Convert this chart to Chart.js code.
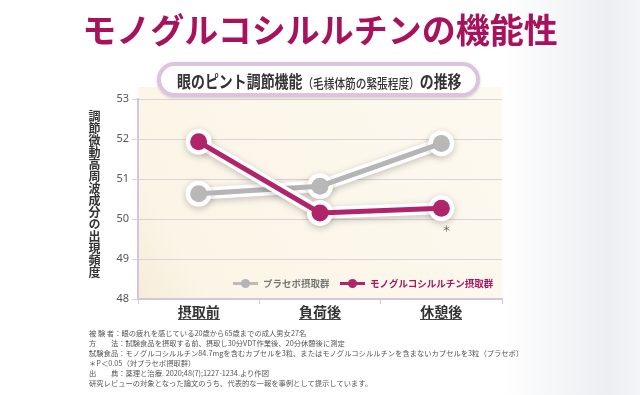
<!DOCTYPE html>
<html>
<head>
<meta charset="utf-8">
<script src="https://cdn.jsdelivr.net/npm/chart.js@4.4.1/dist/chart.umd.min.js"></script>
<style>
  body { margin: 0; width: 640px; height: 395px; overflow: hidden;
    background: linear-gradient(to right, #fff 0%, #fff 78%, #eceef1 95%, #f3f4f6 100%);
    font-family: "Noto Sans CJK JP", "Noto Sans", sans-serif; }
  #wrap { position: relative; width: 640px; height: 395px; }
  #chart { position: absolute; left: 0; top: 0; }
  #title { position: absolute; left: 0; width: 640px; top: 4px; text-align: center;
    font-size: 34px; font-weight: 700; color: #a8125c; letter-spacing: 0px; }
  #pill { position: absolute; left: 157px; top: 62px; width: 315px; height: 27px;
    border: 4px solid #dcc4df; border-radius: 18px; background: #fff;
    box-shadow: 0 1px 3px rgba(0,0,0,0.18); }
  #pillText { position: absolute; left: 16px; top: 2px; white-space: nowrap;
    font-size: 17px; font-weight: 700; color: #333; transform: scaleX(0.82); transform-origin: left center; }
  #pillText small { font-size: 13px; font-weight: 500; }
  #yTitle { position: absolute; left: 86px; top: 110px; writing-mode: vertical-rl;
    font-size: 12px; font-weight: 700; color: #333; line-height: 16px; letter-spacing: 0px; }
  .leg { position: absolute; top: 276px; font-size: 9.5px; font-weight: 700; white-space: nowrap; }
  .leg i { display: inline-block; position: relative; width: 25px; height: 3px; vertical-align: middle; margin-right: 5px; top: -1px; }
  .leg i b { position: absolute; left: 8px; top: -3px; width: 9px; height: 9px; border-radius: 50%; }
  #star { position: absolute; left: 442px; top: 222px; font-size: 9px; color: #555; }
  #notes { position: absolute; left: 89px; top: 329px; font-size: 7.3px; line-height: 9.9px; color: #555; white-space: nowrap; }
</style>
</head>
<body>
<div id="wrap">
  <canvas id="chart" width="640" height="395"></canvas>
  <div id="title">モノグルコシルルチンの機能性</div>
  <div id="pill"><div id="pillText">眼のピント調節機能<small>（毛様体筋の緊張程度）</small>の推移</div></div>
  <div id="yTitle">調節微動高周波成分の出現頻度</div>
  <div class="leg" style="left:233px;color:#777"><i style="background:#bbb"><b style="background:#b5b5b5"></b></i>プラセボ摂取群</div>
  <div class="leg" style="left:340px;color:#a8165f"><i style="background:#b0246a"><b style="background:#b0246a"></b></i>モノグルコシルルチン摂取群</div>
  <div id="star">＊</div>
  <div id="notes">
    <div>被 験 者：眼の疲れを感じている20歳から65歳までの成人男女27名</div>
    <div>方　　法：試験食品を摂取する前、摂取し30分VDT作業後、20分休憩後に測定</div>
    <div>試験食品：モノグルコシルルチン84.7mgを含むカプセルを3粒、またはモノグルコシルルチンを含まないカプセルを3粒（プラセボ）</div>
    <div>＊P＜0.05（対プラセボ摂取群）</div>
    <div>出　　典：薬理と治療. 2020;48(7);1227-1234.より作図</div>
    <div>研究レビューの対象となった論文のうち、代表的な一報を事例として提示しています。</div>
  </div>
</div>
<script>
var categories = ["摂取前", "負荷後", "休憩後"];
var placeboValues = [50.63, 50.82, 51.89];
var monoValues = [51.93, 50.15, 50.27];
var yMin = 48, yMax = 53;

var grayColor = "#b5b5b5";
var magentaColor = "#b0246a";

// beige plot background, point shadows, underlines under the x labels
var decoPlugin = {
    id: "deco",
    beforeDraw: function (chart) {
        var a = chart.chartArea, ctx = chart.ctx;
        ctx.save();
        var g = ctx.createLinearGradient(a.left, a.bottom, a.right, a.top);
        g.addColorStop(0, "#f6ecd8");
        g.addColorStop(0.15, "#fbf5e7");
        g.addColorStop(1, "#fdf9ef");
        ctx.fillStyle = g;
        ctx.fillRect(a.left, a.top - 12, a.right - a.left, a.bottom - a.top + 12);
        ctx.restore();
    },
    beforeDatasetDraw: function (chart, args) {
        var ds = chart.data.datasets[args.index];
        if (ds.halo) {
            var ctx = chart.ctx;
            ctx.save();
            ctx.shadowColor = "rgba(0,0,0,0.22)";
            ctx.shadowBlur = 7;
            ctx.shadowOffsetY = 2;
        }
    },
    afterDatasetDraw: function (chart, args) {
        var ds = chart.data.datasets[args.index];
        if (ds.halo) chart.ctx.restore();
    },
    afterDraw: function (chart) {
        var xs = chart.scales.x, ctx = chart.ctx;
        ctx.save();
        ctx.font = "bold 14px 'Noto Sans CJK JP'";
        ctx.fillStyle = "#444";
        categories.forEach(function (c, i) {
            var px = xs.getPixelForTick(i);
            var w = ctx.measureText(c).width;
            ctx.fillRect(Math.round(px - w / 2), Math.round(xs.top + 20), Math.round(w), 1);
        });
        ctx.restore();
    }
};

new Chart(document.getElementById("chart"), {
    type: "line",
    data: {
        labels: categories,
        datasets: [
            { data: monoValues, borderColor: magentaColor, borderWidth: 5, pointRadius: 8.5,
              pointBackgroundColor: magentaColor, pointBorderWidth: 0, order: 1 },
            { data: monoValues, halo: true, borderColor: "#fff", borderWidth: 12, pointRadius: 13,
              pointBackgroundColor: "#fff", pointBorderWidth: 0, order: 2 },
            { data: placeboValues, borderColor: grayColor, borderWidth: 5, pointRadius: 8.5,
              pointBackgroundColor: "#b8b8b8", pointBorderWidth: 0, order: 3 },
            { data: placeboValues, halo: true, borderColor: "#fff", borderWidth: 12, pointRadius: 13,
              pointBackgroundColor: "#fff", pointBorderWidth: 0, order: 4 }
        ]
    },
    options: {
        responsive: false,
        animation: false,
        layout: { padding: { left: 0, right: 138, top: 99, bottom: 0 } },
        plugins: { legend: { display: false }, tooltip: { enabled: false } },
        scales: {
            x: {
                offset: true,
                grid: { offset: true, drawOnChartArea: false, color: "#d6c6da", tickLength: 5 },
                border: { color: "#d6c6da", width: 2 },
                ticks: { color: "#333", padding: -1, font: { size: 14, weight: "bold", family: "Noto Sans CJK JP" } },
                afterFit: function (s) { s.height = 96; }
            },
            y: {
                min: yMin, max: yMax,
                ticks: { stepSize: 1, color: "#555", padding: 3, font: { size: 11, family: "Noto Sans" } },
                grid: { color: "#ddd2d8", tickLength: 6, borderDash: [2, 3] },
                border: { color: "#d6c6da", width: 2 },
                afterFit: function (s) { s.width = 138; }
            }
        }
    },
    plugins: [decoPlugin]
});
</script>
</body>
</html>
